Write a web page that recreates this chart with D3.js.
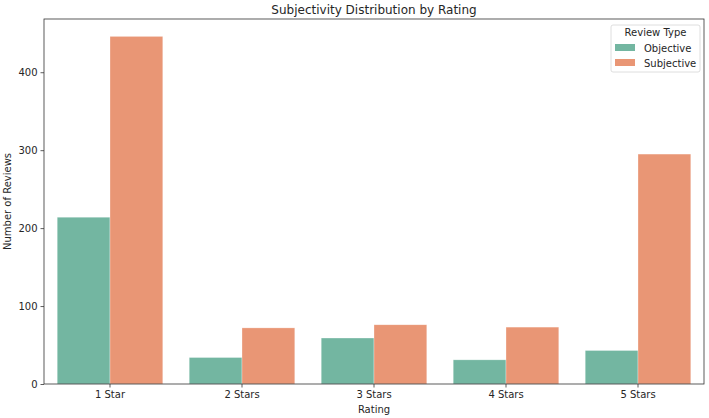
<!DOCTYPE html>
<html>
<head>
<meta charset="utf-8">
<script src="https://cdn.jsdelivr.net/npm/d3@7"></script>
<style>
  body { margin: 0; background: #fff; }
  text { font-family: "DejaVu Sans", sans-serif; fill: #262626; }
</style>
</head>
<body>
<svg id="chart" width="709" height="418"></svg>
<script>
const ratings = ['1 Star', '2 Stars', '3 Stars', '4 Stars', '5 Stars'];
const reviewTypes = ['Objective', 'Subjective'];
const objective = [214, 34, 59, 31, 43];
const subjective = [446, 72, 76, 73, 295];
const yTicks = [0, 100, 200, 300, 400];

const colors = { Objective: '#73b6a1', Subjective: '#e99675' };

const data = ratings.map((r, i) => ({
  rating: r,
  values: [
    { type: 'Objective', amount: objective[i] },
    { type: 'Subjective', amount: subjective[i] }
  ]
}));

const svg = d3.select('#chart');
const margin = { top: 19, right: 5, bottom: 34, left: 44 };
const width = 709 - margin.left - margin.right;
const height = 418 - margin.top - margin.bottom;

const x = d3.scaleBand().domain(ratings).range([0, width]).paddingInner(0.2).paddingOuter(0.1);
const x1 = d3.scaleBand().domain(reviewTypes).range([0, x.bandwidth()]);
const yMax = d3.max(subjective) * 1.05;
const y = d3.scaleLinear().domain([0, yMax]).range([height, 0]);

const g = svg.append('g')
  .attr('transform', 'translate(' + margin.left + ',' + margin.top + ')');

g.selectAll('.group')
  .data(data)
  .enter().append('g')
  .attr('class', 'group')
  .attr('transform', d => 'translate(' + x(d.rating) + ',0)')
  .selectAll('rect')
  .data(d => d.values)
  .enter().append('rect')
  .attr('x', d => x1(d.type))
  .attr('y', d => y(d.amount))
  .attr('width', x1.bandwidth())
  .attr('height', d => height - y(d.amount))
  .attr('fill', d => colors[d.type])
  .attr('stroke', '#ffffff')
  .attr('stroke-opacity', 0.5)
  .attr('stroke-width', 0.6);

const xAxis = g.append('g')
  .attr('transform', 'translate(0,' + height + ')')
  .call(d3.axisBottom(x).tickSize(3.5).tickPadding(3));
const yAxis = g.append('g')
  .call(d3.axisLeft(y).tickValues(yTicks).tickSize(3.5).tickPadding(3));

[xAxis, yAxis].forEach(a => {
  a.select('.domain').remove();
  a.selectAll('line').attr('stroke', '#333').attr('stroke-width', 0.8);
  a.selectAll('text').attr('font-size', 10).attr('fill', '#262626')
    .style('font-family', '"DejaVu Sans", sans-serif');
});

// frame
g.append('rect')
  .attr('width', width)
  .attr('height', height)
  .attr('fill', 'none')
  .attr('stroke', '#333')
  .attr('stroke-width', 0.8);

svg.append('text')
  .attr('x', margin.left + width / 2)
  .attr('y', 14)
  .attr('text-anchor', 'middle')
  .attr('font-size', 12)
  .text('Subjectivity Distribution by Rating');

svg.append('text')
  .attr('x', margin.left + width / 2)
  .attr('y', 413)
  .attr('text-anchor', 'middle')
  .attr('font-size', 10)
  .text('Rating');

svg.append('text')
  .attr('transform', 'translate(11,' + (margin.top + height / 2) + ') rotate(-90)')
  .attr('text-anchor', 'middle')
  .attr('font-size', 10)
  .text('Number of Reviews');

// legend
const legend = svg.append('g').attr('transform', 'translate(611,25)');
legend.append('rect')
  .attr('width', 89)
  .attr('height', 47)
  .attr('rx', 2)
  .attr('fill', '#fff')
  .attr('fill-opacity', 0.8)
  .attr('stroke', '#d6d6d6')
  .attr('stroke-width', 0.8);
legend.append('text')
  .attr('x', 44.5)
  .attr('y', 11)
  .attr('text-anchor', 'middle')
  .attr('font-size', 10)
  .text('Review Type');
reviewTypes.forEach((t, i) => {
  legend.append('rect')
    .attr('x', 4)
    .attr('y', 19 + i * 15)
    .attr('width', 20)
    .attr('height', 7)
    .attr('fill', colors[t]);
  legend.append('text')
    .attr('x', 33)
    .attr('y', 26.5 + i * 15)
    .attr('font-size', 10)
    .text(t);
});
</script>
</body>
</html>
